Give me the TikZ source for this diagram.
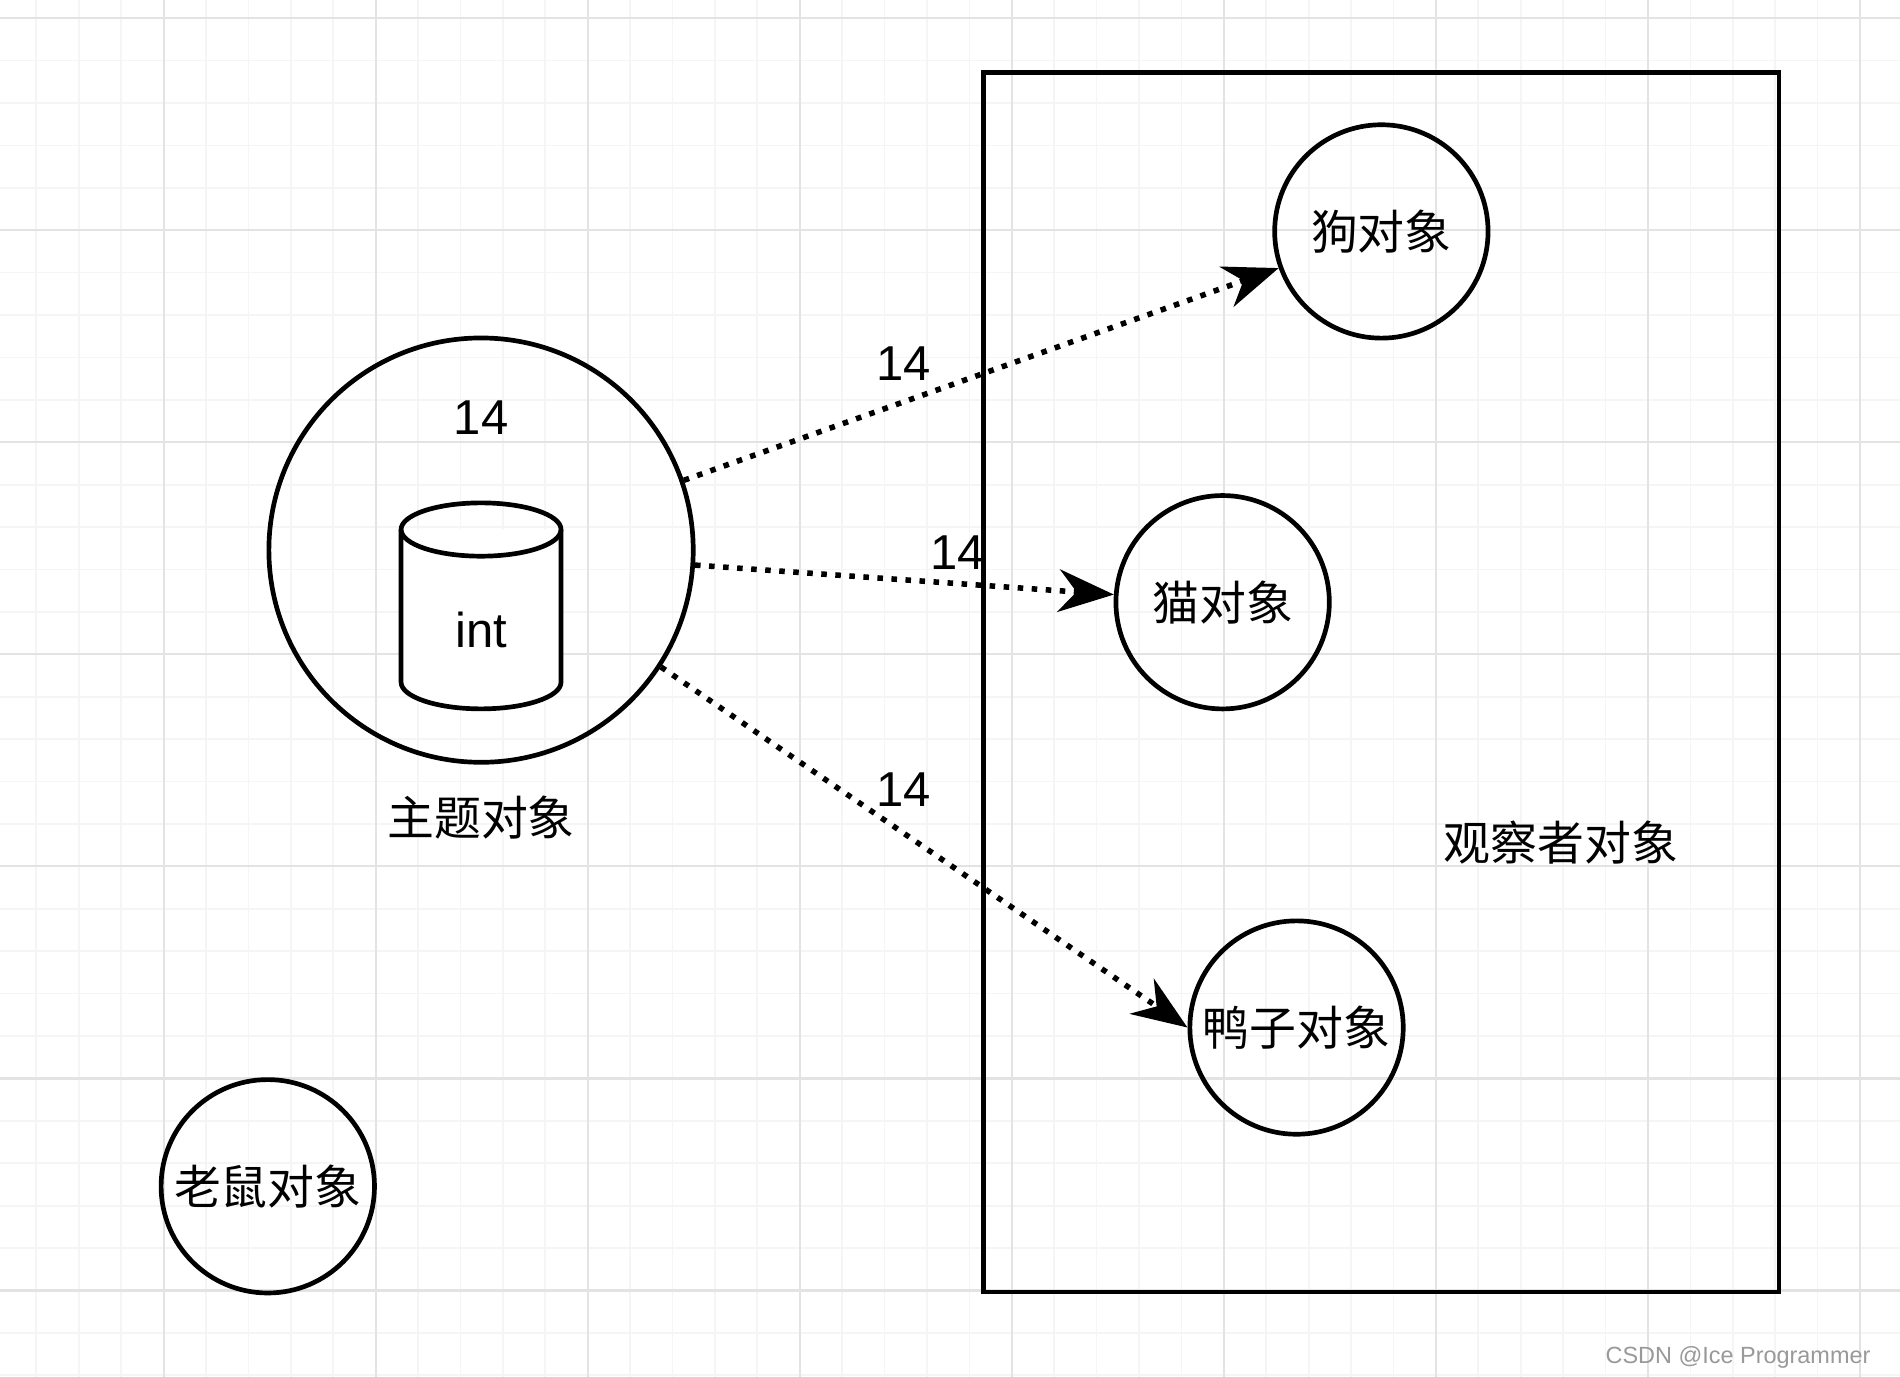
\documentclass[tikz,border=0pt]{standalone}
\usepackage{fontspec}
\setmainfont{Liberation Sans}
\newfontfamily\cjk{Noto Sans CJK SC}
\usetikzlibrary{arrows.meta}
\begin{document}
\begin{tikzpicture}[x=0.01cm,y=-0.01cm,
  obj/.style={circle,draw,line width=1.1pt,minimum size=1.76cm,inner sep=0pt,font=\cjk\fontsize{11}{13}\selectfont},
  lbl/.style={font=\fontsize{11.5}{13}\selectfont},
  clbl/.style={font=\cjk\fontsize{11}{13}\selectfont},
  flow/.style={line width=1.3pt,dotted,-{Stealth[length=13pt,width=10pt]}}]
\useasboundingbox (0,0) rectangle (1568,1136);
\fill[white] (0,0) rectangle (1568,1136);
\foreach \x in {30,65,...,1568} \draw[black!4,line width=0.4pt] (\x,0) -- (\x,1136);
\foreach \y in {15,50,...,1136} \draw[black!4,line width=0.4pt] (0,\y) -- (1568,\y);
\foreach \x in {135,310,...,1568} \draw[black!11,line width=0.5pt] (\x,0) -- (\x,1136);
\foreach \y in {15,190,...,1136} \draw[black!11,line width=0.5pt] (0,\y) -- (1568,\y);
\node[draw,line width=1.1pt,minimum width=6.56cm,minimum height=10.06cm,inner sep=0pt] (obs) at (1140,563) {};
\node[clbl] (obsl) at (1288,695) {观察者对象};
\node[obj,minimum size=3.5cm] (big) at (397,454) {};
\draw[line width=1.1pt,fill=white] (331,437) -- (331,563) arc[start angle=180,end angle=360,x radius=66,y radius=-22] -- (463,437);
\draw[line width=1.1pt] (397,437) ellipse[x radius=66,y radius=22];
\node[lbl] (intl) at (397,520) {int};
\node[lbl] (v) at (397,345) {14};
\node[clbl] (bigl) at (397,675) {主题对象};
\node[obj] (dog) at (1140,191) {狗对象};
\node[obj] (cat) at (1009,497) {猫对象};
\node[obj] (duck) at (1070,848) {鸭子对象};
\node[obj] (mouse) at (221,979) {老鼠对象};
\draw[flow] (big.19) -- (dog);
\draw[flow] (big.-4) -- (cat);
\draw[flow] (big.-33) -- (duck.west);
\node[lbl] (l1) at (746,300) {14};
\node[lbl] (l2) at (790,456) {14};
\node[lbl] (l3) at (746,652) {14};
\node[font=\fontsize{5.5}{7}\selectfont,text=black!40,anchor=east] (wm) at (1556,1120) {CSDN @Ice Programmer};
\end{tikzpicture}
\end{document}
